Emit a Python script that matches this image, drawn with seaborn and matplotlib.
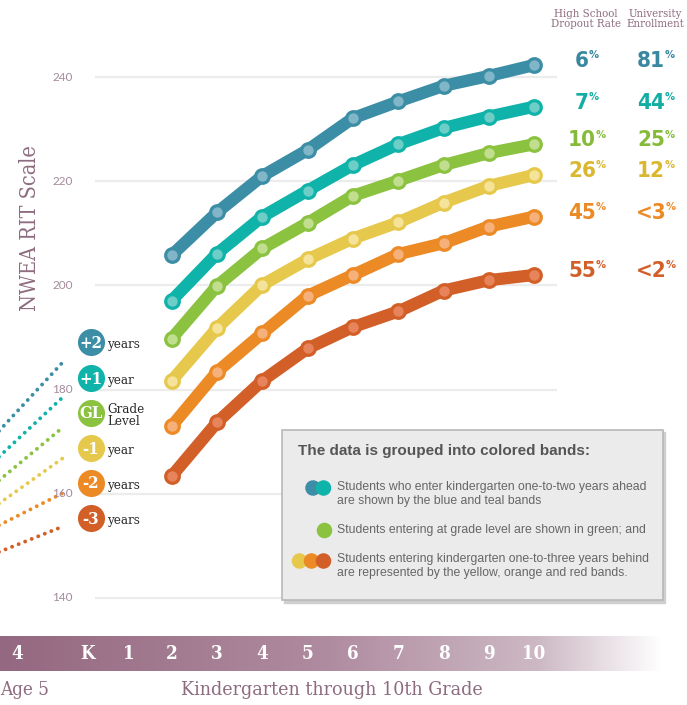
import numpy as np
import pandas as pd
import seaborn as sns
import matplotlib.pyplot as plt
from matplotlib.patches import Rectangle
from matplotlib.transforms import blended_transform_factory

# valores (escala RIT por grado, K a 10)
grades = [2, 3, 4, 5, 6, 7, 8, 9, 10]
bands = ["+2", "+1", "GL", "-1", "-2", "-3"]
rit_plus2 = [205.8, 214.0, 221.0, 226.0, 232.1, 235.3, 238.3, 240.2, 242.3]
rit_plus1 = [197.1, 206.1, 213.2, 218.2, 223.1, 227.1, 230.2, 232.4, 234.3]
rit_gl = [189.8, 199.9, 207.1, 212.0, 217.2, 220.1, 223.1, 225.4, 227.1]
rit_min1 = [181.7, 191.8, 200.1, 205.0, 209.0, 212.1, 215.9, 219.1, 221.2]
rit_min2 = [173.0, 183.4, 190.8, 198.0, 202.0, 206.0, 208.1, 211.3, 213.2]
rit_min3 = [163.4, 173.7, 181.7, 187.9, 192.0, 195.0, 199.0, 201.0, 202.0]

# tramo punteado antes de kinder
prek_x = [-1.85, -0.41]
prek_plus2 = [171.7, 185.2]
prek_plus1 = [166.8, 178.5]
prek_gl = [162.3, 172.7]
prek_min1 = [157.9, 166.8]
prek_min2 = [153.8, 160.1]
prek_min3 = [148.7, 153.7]

dropout = ["6", "7", "10", "26", "45", "55"]
enrollment = ["81", "44", "25", "12", "<3", "<2"]
badge_text = ["+2", "+1", "GL", "-1", "-2", "-3"]
badge_label = ["years", "year", "Grade\nLevel", "year", "years", "years"]
yticks = [140, 160, 180, 200, 220, 240]
grade_labels = ["4", "K", "1", "2", "3", "4", "5", "6", "7", "8", "9", "10"]
grade_label_x = [-1.42, 0.15, 1.06, 2, 3, 4, 5, 6, 7, 8, 9, 10]

line_colors = ["#3b8ea5", "#10b3a9", "#8bc240", "#e6c94c", "#ec8a25", "#d35f28"]
face_colors = ["#80b6c7", "#6dcdc7", "#c1de8e", "#f5e39a", "#f6b07a", "#e8845c"]
text_colors = ["#3a87a0", "#12ada3", "#86bb3a", "#d9b830", "#ec8a25", "#d35f28"]
mauve = "#8e6c80"

sns.set_theme(style="white")
plt.rcParams["font.family"] = ["DejaVu Sans"]
slab = dict(family=["DejaVu Serif"], fontstretch="condensed")
narrow = dict(family=["DejaVu Sans"], fontstretch="condensed")

fig = plt.figure(figsize=(6.87, 7.05), dpi=100)
ax = fig.add_axes([0, 0, 1, 1])
ax.set_xlim(-1.79, 13.375)
ax.set_ylim(119.46, 254.78)
ax.axis("off")

# lineas de cuadricula y etiquetas del eje y
ax.hlines(yticks, 0.31, 10.5, color="#ececec", lw=1.6, zorder=0)
for t in yticks:
    ax.annotate(str(t), xy=(73, t), xycoords=("figure pixels", "data"),
                ha="right", va="center", fontsize=8.5, color="#a48a9a",
                family=["Lato", "DejaVu Sans"])

series = [rit_plus2, rit_plus1, rit_gl, rit_min1, rit_min2, rit_min3]
prek = [prek_plus2, prek_plus1, prek_gl, prek_min1, prek_min2, prek_min3]

df = pd.DataFrame([(b, g, v) for b, vals in zip(bands, series)
                   for g, v in zip(grades, vals)], columns=["band", "grade", "rit"])
df_pre = pd.DataFrame([(b, g, v) for b, vals in zip(bands, prek)
                       for g, v in zip(prek_x, vals)], columns=["band", "grade", "rit"])

sns.lineplot(data=df_pre, x="grade", y="rit", hue="band", hue_order=bands,
             palette=line_colors, lw=2.8, legend=False, ax=ax, sort=False)
for line in ax.lines:
    line.set_linestyle((0, (0.01, 1.8)))
    line.set_dash_capstyle("round")
n_pre = len(ax.lines)

sns.lineplot(data=df, x="grade", y="rit", hue="band", hue_order=bands,
             palette=line_colors, lw=8.8, marker="o", markersize=9.8,
             legend=False, ax=ax, sort=False)
for line, fc, lc in zip(ax.lines[n_pre:], face_colors, line_colors):
    line.set_markerfacecolor(fc)
    line.set_markeredgecolor(lc)
    line.set_markeredgewidth(2.3)
    line.set_solid_capstyle("round")
    line.set_solid_joinstyle("round")

# porcentajes a la derecha
for vals, d, e, c in zip(series, dropout, enrollment, text_colors):
    for xpix, s in [(582, d), (651, e)]:
        t = ax.annotate(s, xy=(xpix, vals[-1]), xycoords=("figure pixels", "data"),
                        xytext=(0, 2.8), textcoords="offset points",
                        ha="center", va="center", fontsize=16, fontweight="bold",
                        color=c, **narrow)
        ax.annotate("%", xy=(1, 1), xycoords=t, xytext=(-0.5, 0.5),
                    textcoords="offset points", ha="left", va="top",
                    fontsize=8, fontweight="bold", color=c, **narrow)

# capa de decoracion en pixeles
dx = fig.add_axes([0, 0, 1, 1])
dx.set_xlim(0, 687)
dx.set_ylim(705, 0)
dx.axis("off")
dx.patch.set_alpha(0)

dx.text(586, 19, "High School\nDropout Rate", ha="center", va="center",
        fontsize=8.2, color=mauve, linespacing=1.05, **slab)
dx.text(655, 19, "University\nEnrollment", ha="center", va="center",
        fontsize=8.2, color=mauve, linespacing=1.05, **slab)
dx.text(30, 228, "NWEA RIT Scale", rotation=90, ha="center", va="center",
        fontsize=15.5, color=mauve, **slab)

# insignias de la izquierda
badge_y = [342, 378, 413, 448, 483, 518]
for y, c, bt, bl in zip(badge_y, line_colors, badge_text, badge_label):
    dx.scatter([91], [y], s=380, color=c, zorder=5, linewidths=0)
    dx.text(91, y + 1, bt, ha="center", va="center", fontsize=12,
            fontweight="bold", color="white", zorder=6, **slab)
    dx.text(107.5, y + 2.5, bl, ha="left", va="center", fontsize=9.5,
            color="#2b2b2b", linespacing=0.85, zorder=6, **slab)

# cuadro explicativo
dx.add_patch(Rectangle((284, 432), 381, 171, color="#cfcfcf", zorder=3))
dx.add_patch(Rectangle((282, 430), 381, 170, facecolor="#ebebeb",
                       edgecolor="#b8b8b8", lw=1.2, zorder=4))
dx.text(298, 451, "The data is grouped into colored bands:", ha="left",
        va="center", fontsize=11, fontweight="bold", color="#555555",
        family=["Liberation Sans", "DejaVu Sans"], zorder=5)
item = dict(ha="left", va="center", fontsize=8.8, color="#666666",
            family=["Liberation Sans", "DejaVu Sans"], zorder=5, linespacing=1.2)
dx.text(337, 494, "Students who enter kindergarten one-to-two years ahead\n"
        "are shown by the blue and teal bands", **item)
dx.text(337, 530, "Students entering at grade level are shown in green; and", **item)
dx.text(337, 566, "Students entering kindergarten one-to-three years behind\n"
        "are represented by the yellow, orange and red bands.", **item)
dx.scatter([313, 323.5], [488, 488], s=125, color=line_colors[:2], zorder=5, linewidths=0)
dx.scatter([323.5], [530], s=125, color=line_colors[2], zorder=5, linewidths=0)
dx.scatter([299.5, 311.5, 323.5], [561, 561, 561], s=125, color=line_colors[3:],
           zorder=5, linewidths=0)

# barra inferior con degradado
stops_x = [0, 330, 540, 662]
stops = np.array([[148, 104, 128], [176, 140, 160], [205, 185, 196], [255, 255, 255]]) / 255
xs = np.linspace(0, 662, 400)
grad = np.stack([np.interp(xs, stops_x, stops[:, k]) for k in range(3)], axis=-1)
dx.imshow(grad[np.newaxis, :, :], extent=[0, 662, 671, 636], aspect="auto", zorder=1)
dx.set_xlim(0, 687)
dx.set_ylim(705, 0)
bar_tr = blended_transform_factory(ax.transData, dx.transData)
for gx, gl in zip(grade_label_x, grade_labels):
    dx.text(gx, 654, gl, transform=bar_tr, ha="center", va="center",
            fontsize=13.5, fontweight="bold", color="white", zorder=7, **slab)

dx.text(0, 690, "Age 5", ha="left", va="center", fontsize=13.5, color=mauve, **slab)
dx.text(332, 690, "Kindergarten through 10th Grade", ha="center", va="center",
        fontsize=14, color=mauve, **slab)

fig.savefig("out.png", dpi=100)
